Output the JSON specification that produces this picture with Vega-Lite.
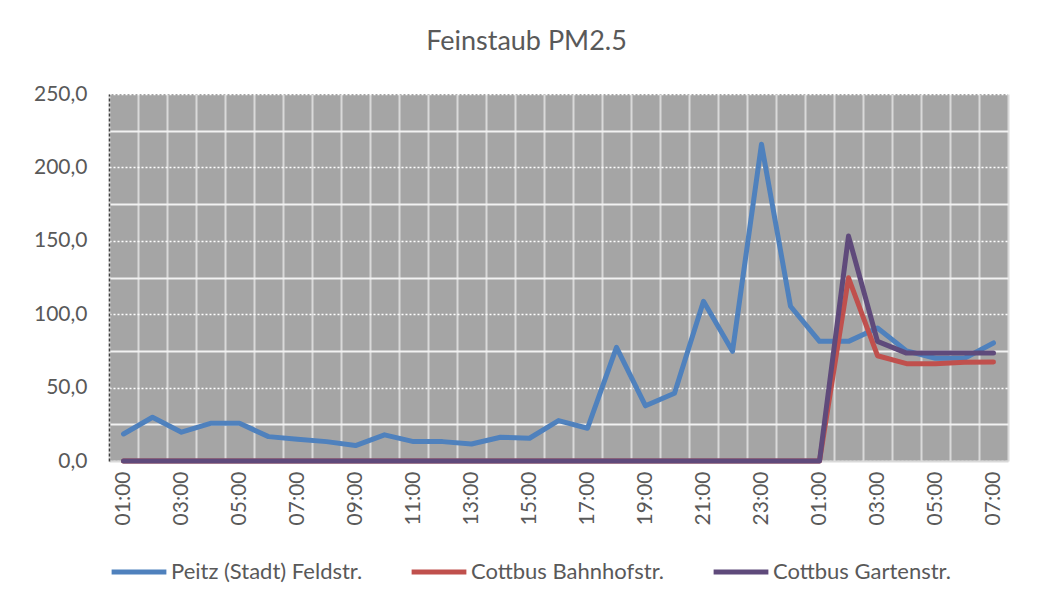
{
  "$schema": "https://vega.github.io/schema/vega-lite/v6.json",
  "width": 899,
  "height": 367,
  "autosize": "none",
  "padding": {"left": 109, "top": 94, "right": 37, "bottom": 145},
  "background": "white",
  "title": {"text": "Feinstaub PM2.5", "anchor": "middle", "frame": "group", "dx": -32, "offset": 27, "fontSize": 27, "font": "Lato", "fontWeight": "normal", "color": "#595959"},
  "data": {"values": [
    {"t": "00|01:00", "s": "Peitz (Stadt) Feldstr.", "v": 18.4},
    {"t": "01|02:00", "s": "Peitz (Stadt) Feldstr.", "v": 29.8},
    {"t": "02|03:00", "s": "Peitz (Stadt) Feldstr.", "v": 19.6},
    {"t": "03|04:00", "s": "Peitz (Stadt) Feldstr.", "v": 25.7},
    {"t": "04|05:00", "s": "Peitz (Stadt) Feldstr.", "v": 25.7},
    {"t": "05|06:00", "s": "Peitz (Stadt) Feldstr.", "v": 16.6},
    {"t": "06|07:00", "s": "Peitz (Stadt) Feldstr.", "v": 14.8},
    {"t": "07|08:00", "s": "Peitz (Stadt) Feldstr.", "v": 13.2},
    {"t": "08|09:00", "s": "Peitz (Stadt) Feldstr.", "v": 10.5},
    {"t": "09|10:00", "s": "Peitz (Stadt) Feldstr.", "v": 17.8},
    {"t": "10|11:00", "s": "Peitz (Stadt) Feldstr.", "v": 13.2},
    {"t": "11|12:00", "s": "Peitz (Stadt) Feldstr.", "v": 13.2},
    {"t": "12|13:00", "s": "Peitz (Stadt) Feldstr.", "v": 11.6},
    {"t": "13|14:00", "s": "Peitz (Stadt) Feldstr.", "v": 16.2},
    {"t": "14|15:00", "s": "Peitz (Stadt) Feldstr.", "v": 15.5},
    {"t": "15|16:00", "s": "Peitz (Stadt) Feldstr.", "v": 27.5},
    {"t": "16|17:00", "s": "Peitz (Stadt) Feldstr.", "v": 22.3},
    {"t": "17|18:00", "s": "Peitz (Stadt) Feldstr.", "v": 77.4},
    {"t": "18|19:00", "s": "Peitz (Stadt) Feldstr.", "v": 37.6},
    {"t": "19|20:00", "s": "Peitz (Stadt) Feldstr.", "v": 46.2},
    {"t": "20|21:00", "s": "Peitz (Stadt) Feldstr.", "v": 108.8},
    {"t": "21|22:00", "s": "Peitz (Stadt) Feldstr.", "v": 74.7},
    {"t": "22|23:00", "s": "Peitz (Stadt) Feldstr.", "v": 215.8},
    {"t": "23|00:00", "s": "Peitz (Stadt) Feldstr.", "v": 105.4},
    {"t": "24|01:00", "s": "Peitz (Stadt) Feldstr.", "v": 81.5},
    {"t": "25|02:00", "s": "Peitz (Stadt) Feldstr.", "v": 81.5},
    {"t": "26|03:00", "s": "Peitz (Stadt) Feldstr.", "v": 90.6},
    {"t": "27|04:00", "s": "Peitz (Stadt) Feldstr.", "v": 75.0},
    {"t": "28|05:00", "s": "Peitz (Stadt) Feldstr.", "v": 70.0},
    {"t": "29|06:00", "s": "Peitz (Stadt) Feldstr.", "v": 70.0},
    {"t": "30|07:00", "s": "Peitz (Stadt) Feldstr.", "v": 80.4},
    {"t": "00|01:00", "s": "Cottbus Bahnhofstr.", "v": 0},
    {"t": "01|02:00", "s": "Cottbus Bahnhofstr.", "v": 0},
    {"t": "02|03:00", "s": "Cottbus Bahnhofstr.", "v": 0},
    {"t": "03|04:00", "s": "Cottbus Bahnhofstr.", "v": 0},
    {"t": "04|05:00", "s": "Cottbus Bahnhofstr.", "v": 0},
    {"t": "05|06:00", "s": "Cottbus Bahnhofstr.", "v": 0},
    {"t": "06|07:00", "s": "Cottbus Bahnhofstr.", "v": 0},
    {"t": "07|08:00", "s": "Cottbus Bahnhofstr.", "v": 0},
    {"t": "08|09:00", "s": "Cottbus Bahnhofstr.", "v": 0},
    {"t": "09|10:00", "s": "Cottbus Bahnhofstr.", "v": 0},
    {"t": "10|11:00", "s": "Cottbus Bahnhofstr.", "v": 0},
    {"t": "11|12:00", "s": "Cottbus Bahnhofstr.", "v": 0},
    {"t": "12|13:00", "s": "Cottbus Bahnhofstr.", "v": 0},
    {"t": "13|14:00", "s": "Cottbus Bahnhofstr.", "v": 0},
    {"t": "14|15:00", "s": "Cottbus Bahnhofstr.", "v": 0},
    {"t": "15|16:00", "s": "Cottbus Bahnhofstr.", "v": 0},
    {"t": "16|17:00", "s": "Cottbus Bahnhofstr.", "v": 0},
    {"t": "17|18:00", "s": "Cottbus Bahnhofstr.", "v": 0},
    {"t": "18|19:00", "s": "Cottbus Bahnhofstr.", "v": 0},
    {"t": "19|20:00", "s": "Cottbus Bahnhofstr.", "v": 0},
    {"t": "20|21:00", "s": "Cottbus Bahnhofstr.", "v": 0},
    {"t": "21|22:00", "s": "Cottbus Bahnhofstr.", "v": 0},
    {"t": "22|23:00", "s": "Cottbus Bahnhofstr.", "v": 0},
    {"t": "23|00:00", "s": "Cottbus Bahnhofstr.", "v": 0},
    {"t": "24|01:00", "s": "Cottbus Bahnhofstr.", "v": 0},
    {"t": "25|02:00", "s": "Cottbus Bahnhofstr.", "v": 124.8},
    {"t": "26|03:00", "s": "Cottbus Bahnhofstr.", "v": 71.7},
    {"t": "27|04:00", "s": "Cottbus Bahnhofstr.", "v": 66.3},
    {"t": "28|05:00", "s": "Cottbus Bahnhofstr.", "v": 66.3},
    {"t": "29|06:00", "s": "Cottbus Bahnhofstr.", "v": 67.2},
    {"t": "30|07:00", "s": "Cottbus Bahnhofstr.", "v": 67.4},
    {"t": "00|01:00", "s": "Cottbus Gartenstr.", "v": 0},
    {"t": "01|02:00", "s": "Cottbus Gartenstr.", "v": 0},
    {"t": "02|03:00", "s": "Cottbus Gartenstr.", "v": 0},
    {"t": "03|04:00", "s": "Cottbus Gartenstr.", "v": 0},
    {"t": "04|05:00", "s": "Cottbus Gartenstr.", "v": 0},
    {"t": "05|06:00", "s": "Cottbus Gartenstr.", "v": 0},
    {"t": "06|07:00", "s": "Cottbus Gartenstr.", "v": 0},
    {"t": "07|08:00", "s": "Cottbus Gartenstr.", "v": 0},
    {"t": "08|09:00", "s": "Cottbus Gartenstr.", "v": 0},
    {"t": "09|10:00", "s": "Cottbus Gartenstr.", "v": 0},
    {"t": "10|11:00", "s": "Cottbus Gartenstr.", "v": 0},
    {"t": "11|12:00", "s": "Cottbus Gartenstr.", "v": 0},
    {"t": "12|13:00", "s": "Cottbus Gartenstr.", "v": 0},
    {"t": "13|14:00", "s": "Cottbus Gartenstr.", "v": 0},
    {"t": "14|15:00", "s": "Cottbus Gartenstr.", "v": 0},
    {"t": "15|16:00", "s": "Cottbus Gartenstr.", "v": 0},
    {"t": "16|17:00", "s": "Cottbus Gartenstr.", "v": 0},
    {"t": "17|18:00", "s": "Cottbus Gartenstr.", "v": 0},
    {"t": "18|19:00", "s": "Cottbus Gartenstr.", "v": 0},
    {"t": "19|20:00", "s": "Cottbus Gartenstr.", "v": 0},
    {"t": "20|21:00", "s": "Cottbus Gartenstr.", "v": 0},
    {"t": "21|22:00", "s": "Cottbus Gartenstr.", "v": 0},
    {"t": "22|23:00", "s": "Cottbus Gartenstr.", "v": 0},
    {"t": "23|00:00", "s": "Cottbus Gartenstr.", "v": 0},
    {"t": "24|01:00", "s": "Cottbus Gartenstr.", "v": 0},
    {"t": "25|02:00", "s": "Cottbus Gartenstr.", "v": 153.2},
    {"t": "26|03:00", "s": "Cottbus Gartenstr.", "v": 81.5},
    {"t": "27|04:00", "s": "Cottbus Gartenstr.", "v": 73.5},
    {"t": "28|05:00", "s": "Cottbus Gartenstr.", "v": 73.5},
    {"t": "29|06:00", "s": "Cottbus Gartenstr.", "v": 73.5},
    {"t": "30|07:00", "s": "Cottbus Gartenstr.", "v": 73.5}
  ]},
  "mark": {"type": "line", "strokeWidth": 5, "strokeCap": "round", "strokeJoin": "round", "clip": false},
  "encoding": {
    "x": {
      "field": "t", "type": "ordinal", "sort": null,
      "scale": {"type": "band", "paddingInner": 0, "paddingOuter": 0},
      "axis": {
        "title": null, "labelAngle": -90,
        "labelExpr": "isString(datum.value) && toNumber(substring(datum.value,0,2)) % 2 == 0 ? substring(datum.value,3) : ''",
        "tickBand": "extent", "ticks": false,
        "grid": true, "gridColor": "#D9D9D9", "gridWidth": 2, "gridOpacity": 1,
        "domain": true, "domainColor": "#D9D9D9", "domainWidth": 2,
        "labelFont": "Lato", "labelFontSize": 21, "labelColor": "#595959", "labelPadding": 10
      }
    },
    "y": {
      "field": "v", "type": "quantitative",
      "scale": {"domain": [0, 250], "nice": false},
      "axis": {
        "title": null, "values": [0, 25, 50, 75, 100, 125, 150, 175, 200, 225, 250],
        "labelExpr": "datum.value % 50 == 0 ? replace(format(datum.value,'.1f'),'.',',') : ''",
        "ticks": false,
        "domainDash": [3, 2], "domainColor": "#404040", "domainWidth": 1.5,
        "grid": true, "gridOpacity": 1,
        "gridColor": {"condition": {"test": "datum.value % 50 == 0", "value": "#FFFFFF"}, "value": "#F2F2F2"},
        "gridDash": {"condition": {"test": "datum.value % 50 == 0", "value": [2, 2]}, "value": []},
        "gridWidth": {"condition": {"test": "datum.value % 50 == 0", "value": 1.5}, "value": 2},
        "labelFont": "Lato", "labelFontSize": 21, "labelColor": "#595959", "labelPadding": 22
      }
    },
    "color": {
      "field": "s", "type": "nominal",
      "scale": {"domain": ["Peitz (Stadt) Feldstr.", "Cottbus Bahnhofstr.", "Cottbus Gartenstr."], "range": ["#4F81BD", "#C0504D", "#5F4A7B"]},
      "legend": {
        "title": null, "orient": "none", "direction": "horizontal",
        "legendX": 0, "legendY": 448, "padding": 0,
        "symbolType": "stroke", "symbolSize": 3000, "symbolStrokeWidth": 5,
        "labelFont": "Lato", "labelFontSize": 22, "labelColor": "#595959", "labelLimit": 0,
        "columnPadding": 38, "labelOffset": 2
      }
    }
  },
  "config": {"view": {"fill": "#A5A5A5", "stroke": null}}
}
